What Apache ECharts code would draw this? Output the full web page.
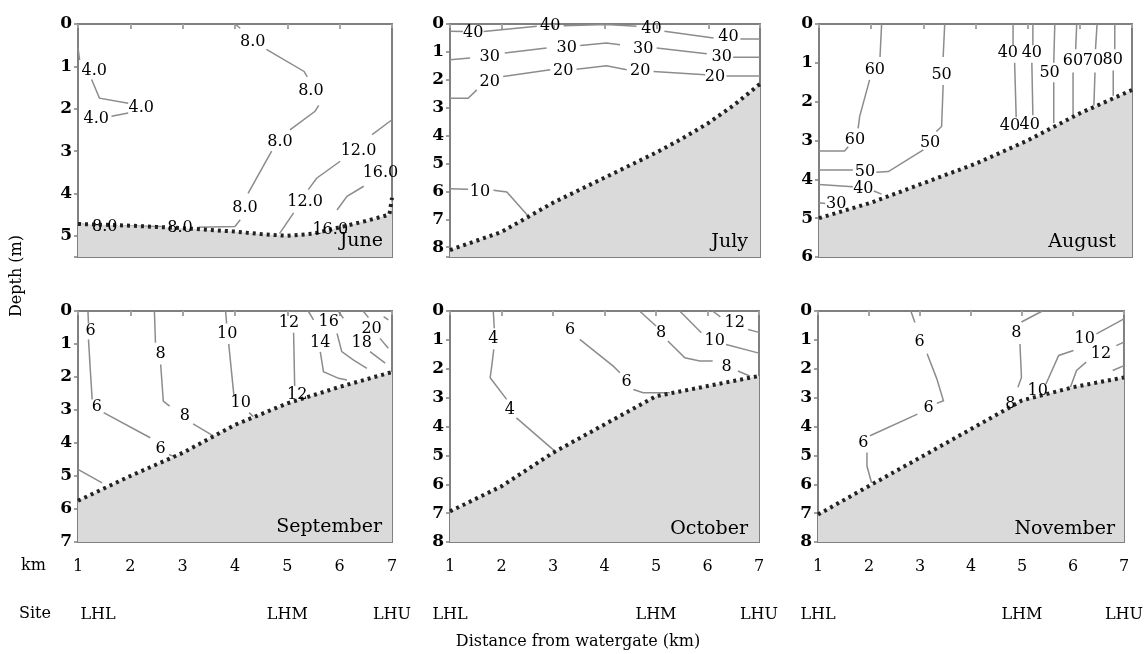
<!DOCTYPE html>
<html>
<head>
<meta charset="utf-8">
<script src="https://cdn.jsdelivr.net/npm/echarts@6/dist/echarts.min.js"></script>
<style>
html,body{margin:0;padding:0;background:#fff;}
#chart{width:1146px;height:654px;}
</style>
</head>
<body>
<div id="chart"></div>
<script>
// ---------------- DATA ----------------
const months = ['June', 'July', 'August', 'September', 'October', 'November'];
const depthMax = [5.5, 8.35, 6, 7, 8, 8];
const kmTicks = [1, 2, 3, 4, 5, 6, 7];
const siteKm = [1, 5, 7];
const siteNames = ['LHL', 'LHM', 'LHU'];

// bottom (bed) profile: [km, depth m]
const juneBottom = [[1,4.72],[1.5,4.74],[2,4.76],[2.5,4.79],[3,4.82],[3.5,4.86],[4,4.9],[4.5,4.96],[5,5.0],[5.5,4.95],[6,4.8],[6.5,4.65],[6.95,4.5],[7,4.1]];
const julyBottom = [[1,8.1],[2,7.45],[3,6.4],[4,5.5],[5,4.6],[5.5,4.1],[6,3.55],[6.5,2.9],[7,2.15]];
const augustBottom = [[1,5.0],[2,4.6],[3,4.1],[4,3.6],[5,3.0],[6,2.3],[7,1.7]];
const septemberBottom = [[1,5.75],[2,5.0],[3,4.3],[4,3.45],[5,2.8],[6,2.3],[7,1.85]];
const octoberBottom = [[1,6.94],[2,6.07],[3,4.91],[4,3.93],[5,2.95],[6,2.6],[7,2.25]];
const novemberBottom = [[1,7.05],[2,6.06],[3,5.08],[4,4.09],[5,3.1],[6,2.64],[7,2.3]];

// contour line pieces (between labels): [km, depth m]
const juneLines = [
  [[4.0,0],[4.1,0.1]], [[4.6,0.6],[5.32,1.12],[5.38,1.25]], [[5.6,1.92],[5.53,2.06],[5.05,2.5]],
  [[4.7,3.0],[4.25,4.0]], [[4.1,4.62],[4.0,4.78],[3.3,4.8]], [[2.6,4.78],[1.85,4.77]], [[1.2,4.74],[1.0,4.72]],
  [[1.0,0.55],[1.03,0.85]], [[1.26,1.31],[1.41,1.75],[1.96,1.87]], [[1.96,2.1],[1.64,2.18]],
  [[7,2.26],[6.62,2.61]], [[6.01,3.24],[5.56,3.64],[5.4,3.91]], [[5.12,4.46],[4.85,4.95]],
  [[6.46,3.83],[6.14,4.07],[5.95,4.39]]
];
const juneLabels = [
  [4.34,0.41,'8.0'],[5.45,1.57,'8.0'],[4.86,2.77,'8.0'],[4.19,4.35,'8.0'],[2.95,4.8,'8.0'],[1.51,4.78,'8.0'],
  [1.31,1.1,'4.0'],[2.21,1.98,'4.0'],[1.35,2.24,'4.0'],
  [6.36,3.0,'12.0'],[5.34,4.19,'12.0'],[6.78,3.52,'16.0'],[5.82,4.86,'16.0']
];
const julyLines = [
  [[1,0.26],[1.25,0.27]], [[1.65,0.27],[2.68,0.08]], [[3.2,0.06],[4.03,0.02],[4.61,0.08]], [[5.15,0.26],[6.1,0.5]], [[6.62,0.54],[7,0.54]],
  [[1,1.28],[1.39,1.22]], [[2.06,1.04],[2.87,0.86]], [[3.52,0.77],[4.03,0.68],[4.29,0.74]], [[5.0,0.86],[5.97,1.07]], [[6.48,1.19],[7,1.19]],
  [[1,2.66],[1.35,2.66],[1.52,2.36]], [[2.03,1.88],[2.94,1.64]], [[3.45,1.62],[4.03,1.5],[4.42,1.64]], [[4.94,1.70],[5.94,1.82]], [[6.35,1.86],[7,1.86]],
  [[1,5.9],[1.35,5.92]], [[1.84,5.96],[2.1,6.02],[2.5,6.85]]
];
const julyLabels = [
  [1.45,0.32,'40'],[2.94,0.06,'40'],[4.9,0.18,'40'],[6.39,0.47,'40'],
  [1.77,1.19,'30'],[3.26,0.86,'30'],[4.74,0.9,'30'],[6.26,1.16,'30'],
  [1.77,2.06,'20'],[3.19,1.68,'20'],[4.68,1.68,'20'],[6.13,1.88,'20'],
  [1.58,6.02,'10']
];
const augustLines = [
  [[2.2,0],[2.17,0.85]], [[1.97,1.44],[1.78,2.38],[1.75,2.69]], [[1.56,3.16],[1.49,3.27],[1,3.27]],
  [[3.41,0],[3.38,0.85]], [[3.38,1.57],[3.35,2.64],[3.25,2.77]], [[3.0,3.24],[2.33,3.8],[2.1,3.82]], [[1.65,3.76],[1,3.76]],
  [[1,4.13],[1.65,4.19]], [[2.05,4.3],[2.2,4.38]], [[1,4.6],[1.12,4.62]],
  [[4.72,0],[4.72,0.55]], [[4.75,1.0],[4.78,2.4]],
  [[5.1,0],[5.1,0.55]], [[5.08,1.0],[5.1,2.35]],
  [[5.52,0],[5.5,1.0]], [[5.5,1.5],[5.5,2.55]],
  [[5.94,0],[5.92,0.65]], [[5.87,1.25],[5.87,2.4]],
  [[6.33,0],[6.3,0.65]], [[6.29,1.25],[6.27,2.1]],
  [[6.67,0],[6.67,0.65]], [[6.64,1.2],[6.64,1.85]]
];
const augustLabels = [
  [2.07,1.18,'60'],[1.69,2.99,'60'],[3.35,1.31,'50'],[3.13,3.06,'50'],[1.88,3.82,'50'],
  [1.85,4.25,'40'],[1.33,4.64,'30'],
  [4.62,0.75,'40'],[4.66,2.62,'40'],[5.08,0.75,'40'],[5.04,2.6,'40'],
  [5.42,1.27,'50'],[5.87,0.95,'60'],[6.25,0.95,'70'],[6.63,0.92,'80']
];
const septemberLines = [
  [[1.19,0],[1.2,0.38]], [[1.2,0.86],[1.27,2.68]], [[1.49,3.08],[2.38,3.84]], [[2.74,4.35],[2.85,4.42]],
  [[1,4.8],[1.46,5.21]],
  [[2.46,0],[2.48,0.96]], [[2.58,1.62],[2.63,2.73],[2.75,2.88]], [[3.2,3.42],[3.6,3.8]],
  [[3.82,0],[3.84,0.38]], [[3.88,1.0],[3.98,2.58]], [[4.27,3.08],[4.35,3.2]],
  [[5.12,0.66],[5.14,2.27]],
  [[5.4,0],[5.5,0.27]], [[5.63,1.24],[5.69,1.84],[5.98,2.04],[6.14,2.09]],
  [[5.95,0.68],[6.04,1.23],[6.26,1.48],[6.52,1.74]],
  [[5.98,0.02],[6.07,0.22]], [[6.58,1.23],[6.87,1.58]],
  [[6.45,0],[6.55,0.2]], [[6.77,0.83],[6.93,1.13]],
  [[6.84,0.17],[6.93,0.27]]
];
const septemberLabels = [
  [1.24,0.61,'6'],[1.36,2.9,'6'],[2.58,4.18,'6'],
  [2.58,1.31,'8'],[3.04,3.18,'8'],
  [3.85,0.68,'10'],[4.11,2.78,'10'],
  [5.03,0.35,'12'],[5.19,2.53,'12'],
  [5.63,0.97,'14'],[5.79,0.32,'16'],[6.42,0.98,'18'],[6.61,0.53,'20']
];
const octoberLines = [
  [[1.84,0],[1.86,0.6]], [[1.85,1.33],[1.81,1.91],[1.78,2.31],[2.1,3.06]], [[2.29,3.7],[3.04,4.86]],
  [[3.52,0.98],[4.17,1.91],[4.3,2.14]], [[4.56,2.72],[4.75,2.83],[5.27,2.83]],
  [[4.68,0],[5.0,0.52]], [[5.23,1.04],[5.56,1.62],[5.85,1.73],[6.1,1.73]], [[6.59,2.08],[6.82,2.25]],
  [[5.46,0],[5.88,0.75]], [[6.36,1.16],[6.98,1.45]],
  [[6.1,0],[6.25,0.2]], [[6.79,0.64],[7,0.74]]
];
const octoberLabels = [
  [1.84,0.98,'4'],[2.16,3.43,'4'],[3.33,0.64,'6'],[4.43,2.46,'6'],
  [5.1,0.75,'8'],[6.37,1.94,'8'],[6.14,1.04,'10'],[6.53,0.4,'12']
];
const novemberLines = [
  [[2.82,0],[2.9,0.4]], [[3.14,1.48],[3.33,2.35],[3.46,3.11],[3.33,3.2]], [[2.95,3.57],[2.02,4.32]], [[1.96,4.9],[1.96,5.37],[2.05,5.95]],
  [[5.4,0],[4.99,0.38]], [[4.96,1.14],[4.99,2.3],[4.92,2.64]],
  [[7,0.27],[6.46,0.79]], [[6.01,1.37],[5.72,1.54],[5.47,2.53]],
  [[7,1.08],[6.85,1.2]], [[6.26,1.77],[6.07,2.06],[5.95,2.64]],
  [[7,1.89],[6.78,2.06]]
];
const novemberLabels = [
  [2.99,1.08,'6'],[3.17,3.36,'6'],[1.89,4.56,'6'],
  [4.89,0.77,'8'],[4.77,3.2,'8'],
  [6.23,0.96,'10'],[5.31,2.76,'10'],[6.55,1.48,'12']
];

const bottoms = [juneBottom, julyBottom, augustBottom, septemberBottom, octoberBottom, novemberBottom];
const lines = [juneLines, julyLines, augustLines, septemberLines, octoberLines, novemberLines];
const labels = [juneLabels, julyLabels, augustLabels, septemberLabels, octoberLabels, novemberLabels];

// ---------------- LAYOUT ----------------
const FONT = 'DejaVu Serif';
const gridLeft = [78, 450, 819, 78, 450, 818];
const gridWidth = [314, 310, 313, 314, 309, 314];
const gridTop = [24, 24, 24, 311, 311, 311];
const gridHeight = [233, 233, 233, 231, 231, 231];
const monthPos = [[383,241],[748,242],[1116,242],[382,527],[748,529],[1115,529]];

const chart = echarts.init(document.getElementById('chart'), null, {renderer: 'canvas'});
const grids = [], xAxes = [], yAxes = [], series = [], graphics = [];
const frameColor = '#808080';

for (let i = 0; i < 6; i++) {
  grids.push({left: gridLeft[i], top: gridTop[i], width: gridWidth[i], height: gridHeight[i],
    show: true, borderColor: frameColor, borderWidth: 2, backgroundColor: 'rgba(0,0,0,0)'});
  const bottomRow = i >= 3;
  const xi = xAxes.length;
  xAxes.push({
    type: 'value', gridIndex: i, min: kmTicks[0], max: kmTicks[kmTicks.length - 1], interval: 1,
    position: 'bottom',
    axisLine: {show: true, lineStyle: {color: frameColor, width: 2}},
    axisTick: {show: true, inside: false, length: 5, lineStyle: {color: frameColor, width: 1.5}},
    splitLine: {show: false},
    axisLabel: {show: bottomRow, fontFamily: FONT, fontSize: 16, color: '#000', margin: 17}
  });
  // top ticks
  xAxes.push({
    type: 'value', gridIndex: i, min: kmTicks[0], max: kmTicks[kmTicks.length - 1], interval: 1,
    position: 'top', axisLine: {show: false},
    axisTick: {show: true, inside: true, length: 4, lineStyle: {color: '#aaa', width: 1.5}},
    axisLabel: {show: false}, splitLine: {show: false}
  });
  if (bottomRow) {
    const first = (i === 3);
    xAxes.push({
      type: 'value', gridIndex: i, min: kmTicks[0], max: kmTicks[kmTicks.length - 1], interval: 1,
      position: 'bottom', offset: 63,
      axisLine: {show: false}, axisTick: {show: false}, splitLine: {show: false},
      axisLabel: {
        show: true, margin: 2, color: '#000', fontFamily: FONT, fontSize: 16,
        showMinLabel: true, showMaxLabel: true,
        formatter: v => {
          const k = siteKm.indexOf(v);
          if (k < 0) return '';
          if (first && k === 0) return '{s|' + siteNames[k] + '}';
          return siteNames[k];
        },
        rich: {s: {fontFamily: FONT, fontSize: 16, color: '#000', padding: [0, 0, 0, 40]}}
      }
    });
  }
  yAxes.push({
    type: 'value', gridIndex: i, inverse: true, min: 0, max: depthMax[i], interval: 1,
    axisLine: {show: true, lineStyle: {color: frameColor, width: 2}},
    axisTick: {show: true, inside: false, length: 4, lineStyle: {color: frameColor, width: 1.5}},
    splitLine: {show: false},
    axisLabel: {fontFamily: FONT, fontSize: 17, fontWeight: 'bold', color: '#000', margin: 6,
      formatter: v => (Number.isInteger(v) ? String(v) : '')}
  });
  // bed fill + dotted line
  series.push({
    type: 'line', xAxisIndex: xi, yAxisIndex: i, data: bottoms[i], showSymbol: false, symbol: 'none',
    silent: true, z: 3,
    lineStyle: {color: '#222', width: 4, type: [3, 4]},
    areaStyle: {color: '#dadada', opacity: 1, origin: 'end'}
  });
  // contour lines
  series.push({
    type: 'lines', coordinateSystem: 'cartesian2d', xAxisIndex: xi, yAxisIndex: i, polyline: true,
    silent: true, z: 2,
    lineStyle: {color: '#8c8c8c', width: 1.5, opacity: 1},
    data: lines[i].map(seg => ({coords: seg}))
  });
  // contour labels
  series.push({
    type: 'scatter', xAxisIndex: xi, yAxisIndex: i, data: labels[i], symbolSize: 1, silent: true, z: 4,
    itemStyle: {color: 'rgba(255,255,255,0)'},
    label: {show: true, position: 'inside', formatter: p => p.value[2], opacity: 1,
      fontFamily: FONT, fontSize: 16, color: '#000', textBorderWidth: 0, textBorderColor: 'transparent'},
    labelLayout: {hideOverlap: false}
  });
  graphics.push({type: 'text', x: monthPos[i][0], y: monthPos[i][1], z: 10,
    style: {text: months[i], fill: '#000', font: '19px "DejaVu Serif"', align: 'right', verticalAlign: 'middle'}});
}

graphics.push({type: 'text', x: 21, y: 566, style: {text: 'km', fill: '#000', font: '16px "DejaVu Serif"', align: 'left', verticalAlign: 'middle'}});
graphics.push({type: 'text', x: 19, y: 614, style: {text: 'Site', fill: '#000', font: '16px "DejaVu Serif"', align: 'left', verticalAlign: 'middle'}});
graphics.push({type: 'text', x: 17, y: 276, rotation: Math.PI / 2, style: {text: 'Depth (m)', fill: '#000', font: '16px "DejaVu Serif"', align: 'center', verticalAlign: 'middle'}});
graphics.push({type: 'text', x: 578, y: 642, style: {text: 'Distance from watergate (km)', fill: '#000', font: '16px "DejaVu Serif"', align: 'center', verticalAlign: 'middle'}});

chart.setOption({
  animation: false,
  backgroundColor: '#fff',
  grid: grids, xAxis: xAxes, yAxis: yAxes, series: series, graphic: graphics
});
</script>
</body>
</html>
